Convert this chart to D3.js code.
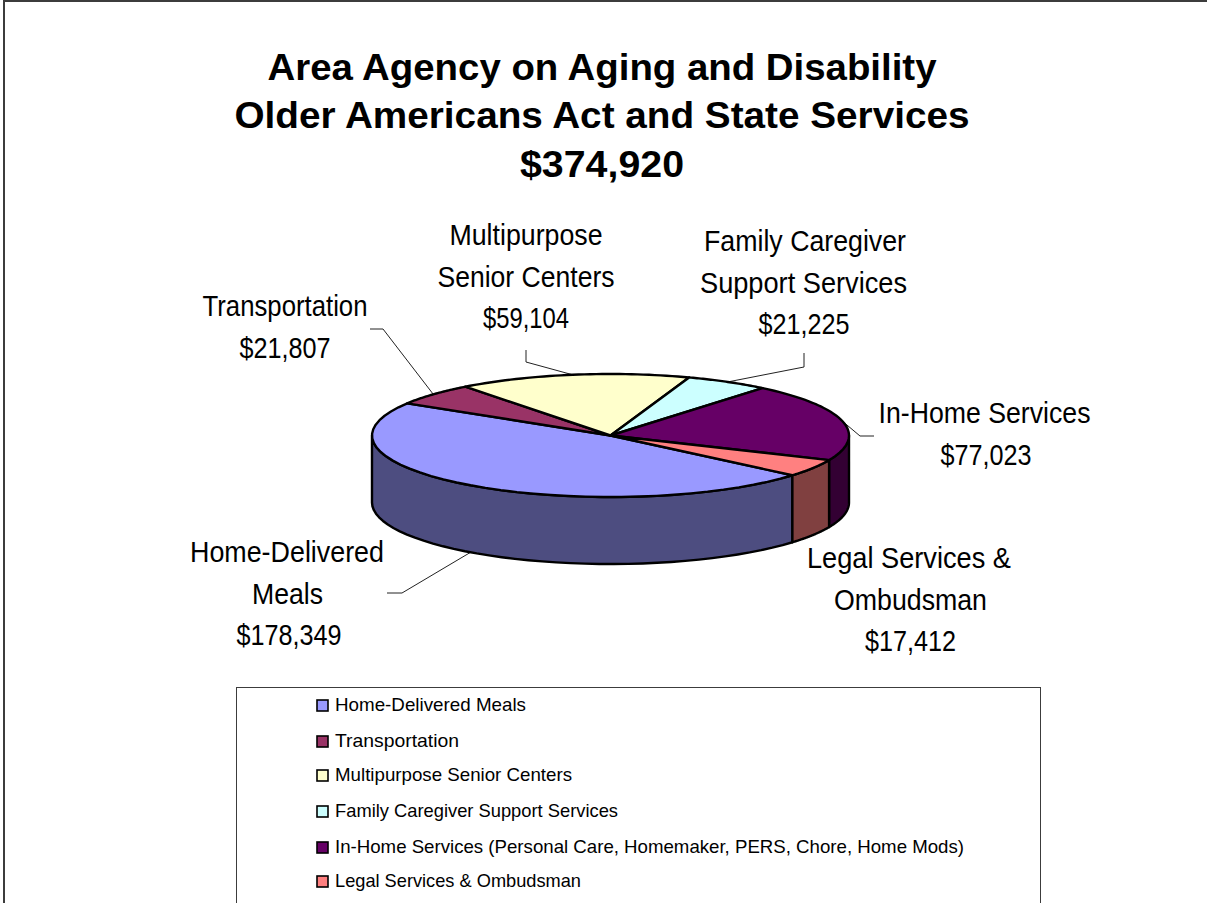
<!DOCTYPE html>
<html><head><meta charset="utf-8">
<script src="https://cdn.jsdelivr.net/npm/d3@7"></script>
<style>html,body{margin:0;padding:0;background:#fff}svg{display:block}text{font-family:"Liberation Sans",Arial,sans-serif;fill:#000}</style>
</head><body><svg id="c" width="1207" height="903"></svg>
<script>
const categories = ["Home-Delivered Meals","Transportation","Multipurpose Senior Centers","Family Caregiver Support Services","In-Home Services","Legal Services & Ombudsman"];
const values = [178349,21807,59104,21225,77023,17412];
const topColors = ["#9999FF","#993366","#FFFFCC","#CCFFFF","#660066","#FF8080"];
const sideColors = ["#4D4D80","#4D1A33","#808066","#668080","#330033","#804040"];
const legendLabels = ["Home-Delivered Meals","Transportation","Multipurpose Senior Centers","Family Caregiver Support Services","In-Home Services (Personal Care, Homemaker, PERS, Chore, Home Mods)","Legal Services & Ombudsman"];
const legendWidths = [191,124,237,283,629,246];
const titleLines = ["Area Agency on Aging and Disability","Older Americans Act and State Services","$374,920"];
const titleWidths = [669,735,164];
const labelLines = [["Home-Delivered","Meals","$178,349"],["Transportation","$21,807"],["Multipurpose","Senior Centers","$59,104"],["Family Caregiver","Support Services","$21,225"],["In-Home Services","$77,023"],["Legal Services &","Ombudsman","$17,412"]];
const labelX = [[287,287.5,289],[285,285],[526,526,526],[805,803.5,804],[984.5,986],[909,910.5,910.5]];
const labelY = [552,306,235,241,413,558];
const lineWidths = [[194,71,105],[165,91],[153,177,86],[202,207,91],[212,91],[204,153,91]];
const leaderElbows = [[[402,593],[387,593]],[[383,329],[370,329]],[[526,362],[526,350]],[[804,367],[804,353]],[[860,436],[874,436]],[]];

const svg = d3.select("#c");
const W = 1207, H = 903;
const cx = 610.5, cy = 435.5, rx = 238.5, ry = 61.5, depth = 67;
const rad = d3.scaleLinear().domain([0,180]).range([0,Math.PI]);
const start = rad(130.3);
const pie = d3.pie().sort(null).startAngle(start).endAngle(start+2*Math.PI);
const arcs = pie(values);
const px = a => cx + rx*Math.sin(a), py = (a,z=0) => cy - ry*Math.cos(a) + z;
const line = d3.line();
const samples = (a0,a1) => d3.range(0,41).map(i => a0+(a1-a0)*i/40);

svg.append("rect").attr("x",4).attr("y",1).attr("width",W).attr("height",H).attr("fill","#fff").attr("stroke","#3c3c3c").attr("stroke-width",2);

// leaders sit under the pie
const leaders = svg.append("g");
const g = svg.append("g");
// side walls, limited to the visible front half
arcs.forEach((d,i)=>{
  [0,2*Math.PI].forEach(off=>{
    const a0=Math.max(d.startAngle-off,rad(90)), a1=Math.min(d.endAngle-off,rad(270));
    if(a1<=a0) return;
    const s=samples(a0,a1);
    const pts=[...s.map(a=>[px(a),py(a)]),...s.slice().reverse().map(a=>[px(a),py(a,depth)])];
    g.append("path").attr("d",line(pts)+"Z").attr("fill",sideColors[i]).attr("stroke","#000").attr("stroke-width",2.4).attr("stroke-linejoin","round");
  });
});
// top faces
arcs.forEach((d,i)=>{
  const pts=[[cx,cy],...samples(d.startAngle,d.endAngle).map(a=>[px(a),py(a)])];
  g.append("path").attr("d",line(pts)+"Z").attr("fill",topColors[i]).attr("stroke","#000").attr("stroke-width",2.4).attr("stroke-linejoin","round");
});
arcs.forEach((d,i)=>{
  const el=leaderElbows[i]; if(!el.length) return;
  const m=(d.startAngle+d.endAngle)/2;
  const p0=[px(m),py(m,i===0?depth:0)];
  leaders.append("path").attr("d",line([p0,...el])).attr("fill","none").attr("stroke","#222").attr("stroke-width",1);
});
// title
titleLines.forEach((t,i)=>{
  svg.append("text").attr("x",602).attr("y",79.5+i*48.7).attr("text-anchor","middle").attr("font-size",36).attr("font-weight","bold")
    .attr("textLength",titleWidths[i]).attr("lengthAdjust","spacingAndGlyphs").text(t);
});
// labels
labelLines.forEach((ls,i)=>{
  ls.forEach((t,j)=>{
    svg.append("text").attr("x",labelX[i][j]).attr("y",labelY[i]+j*41.5).attr("dy","0.35em").attr("text-anchor","middle").attr("font-size",29.5)
      .attr("textLength",lineWidths[i][j]).attr("lengthAdjust","spacingAndGlyphs").text(t);
  });
});
// legend
svg.append("rect").attr("x",236.5).attr("y",687.5).attr("width",804).attr("height",240).attr("fill","#fff").attr("stroke","#3c3c3c").attr("stroke-width",1);
const legendRows = [705,741,775,811,847,881];
legendLabels.forEach((t,i)=>{
  const y=legendRows[i];
  svg.append("rect").attr("x",317).attr("y",y-5).attr("width",11).attr("height",11).attr("fill",topColors[i]).attr("stroke","#000").attr("stroke-width",1.6);
  svg.append("text").attr("x",335).attr("y",y).attr("dy","0.35em").attr("font-size",18.5)
    .attr("textLength",legendWidths[i]).attr("lengthAdjust","spacingAndGlyphs").text(t);
});
</script></body></html>
